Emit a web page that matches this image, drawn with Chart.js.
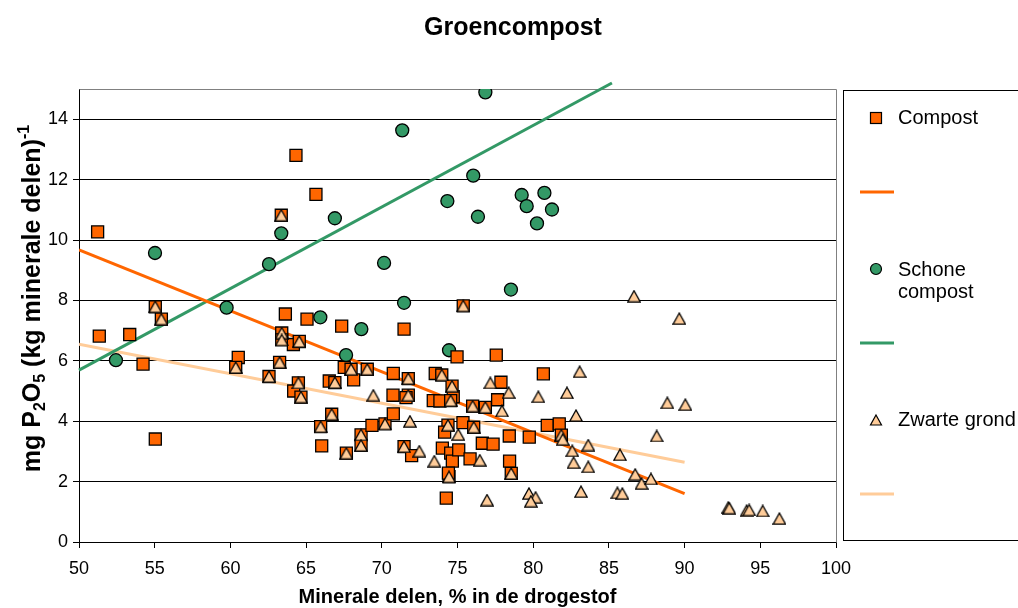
<!DOCTYPE html>
<html>
<head>
<meta charset="utf-8">
<script src="https://cdn.jsdelivr.net/npm/chart.js@4.4.1/dist/chart.umd.min.js"></script>
<style>
html,body{margin:0;padding:0;background:#ffffff;}
#c{display:block;}
</style>
</head>
<body>
<canvas id="c" width="1018" height="608"></canvas>
<script>
// ---- text ----
const chartTitle = 'Groencompost';
const xAxisTitle = 'Minerale delen, % in de drogestof';
const yAxisTitleParts = [['mg P', 'n'], ['2', 'sub'], ['O', 'n'], ['5', 'sub'], [' (kg minerale delen)', 'n'], ['-1', 'sup']];
const seriesNames = ['Compost', 'Schone compost', 'Zwarte grond'];

// ---- ticks ----
const xTicks = [50, 55, 60, 65, 70, 75, 80, 85, 90, 95, 100];
const yTicks = [0, 2, 4, 6, 8, 10, 12, 14];

// ---- series: Compost ----
const compostX = [51.23,51.34,53.35,54.23,55.04,55.04,55.44,60.52,60.35,62.55,63.25,63.36,63.39,63.39,63.63,64.16,64.55,64.33,65.06,65.65,64.49,64.18,64.66,66.53,66.9,66.69,65.96,66.03,67.35,67.52,67.97,68.14,69.04,67.66,68.63,68.63,69.35,70.21,70.76,70.74,70.76,71.47,71.75,71.75,71.6,71.47,71.97,73.53,73.96,74.97,75.38,77.56,74.64,74.72,73.4,73.84,74.55,76.0,76.84,77.65,77.87,80.67,74.37,74.15,75.36,76.07,74.0,74.55,74.66,75.08,75.83,74.44,74.4,74.26,76.64,77.35,78.42,79.74,78.44,78.55,80.93,81.72,81.86];
const compostY = [10.27,6.82,6.87,5.89,3.41,7.79,7.38,6.11,5.78,5.48,5.95,10.82,6.92,6.69,7.55,6.54,6.64,12.8,7.38,11.51,5.27,5.0,4.8,5.33,5.28,4.23,3.82,3.18,7.15,5.78,5.72,5.37,5.72,2.94,3.55,3.2,3.86,3.91,4.24,4.86,5.58,7.05,5.41,4.86,4.78,3.16,2.86,5.58,5.53,6.13,7.82,6.19,5.16,4.81,4.68,4.67,4.68,4.5,4.46,4.71,5.29,5.57,3.87,3.64,3.95,3.8,3.11,2.94,2.68,3.05,2.75,2.16,2.28,1.45,3.27,3.24,3.51,3.47,2.68,2.27,3.86,3.91,3.54];

// ---- series: Schone compost ----
const schoneX = [52.44,55.02,59.75,62.55,63.36,65.94,66.9,67.64,68.65,70.15,71.35,71.47,74.33,74.44,76.04,76.35,76.84,78.53,79.24,79.57,80.25,80.74,81.24];
const schoneY = [6.02,9.57,7.76,9.2,10.22,7.44,10.72,6.19,7.05,9.24,13.63,7.92,11.29,6.35,12.13,10.77,14.89,8.36,11.49,11.12,10.55,11.56,11.01];

// ---- series: Zwarte grond ----
const zwarteX = [55.04,55.44,60.35,62.55,63.25,63.36,63.39,63.39,64.55,64.49,64.66,66.9,66.69,65.96,67.97,69.04,67.66,68.63,68.63,70.21,71.75,71.75,71.47,73.96,75.38,74.64,74.55,76.0,76.84,74.37,76.07,74.44,78.55,81.86,69.44,71.86,72.48,75.05,73.47,76.47,76.95,77.17,78.38,77.94,80.34,82.23,82.83,83.07,81.95,82.58,82.67,83.64,83.64,79.72,80.16,79.85,83.16,86.66,89.65,88.86,90.05,88.16,85.73,86.74,87.16,87.78,85.56,85.89,92.89,92.95,94.1,94.27,95.16,96.26];
const zwarteY = [7.79,7.38,5.78,5.48,5.95,10.82,6.92,6.69,6.64,5.27,4.8,5.28,4.23,3.82,5.72,5.72,2.94,3.55,3.2,3.91,5.41,4.86,3.16,5.53,7.82,5.16,4.68,4.5,4.46,3.87,3.8,2.16,2.27,3.54,4.86,4.0,3.01,3.56,2.68,2.71,1.39,5.27,4.95,4.34,4.81,4.94,4.19,5.64,3.4,3.02,2.63,3.21,2.49,1.61,1.48,1.35,1.67,8.14,7.4,4.61,4.55,3.51,2.89,2.24,1.94,2.09,1.63,1.61,1.15,1.12,1.04,1.06,1.03,0.78];

// ---- trend lines (end points) ----
const compostTrendX = [50, 90];
const compostTrendY = [9.67, 1.6];
const schoneTrendX = [50, 85.2];
const schoneTrendY = [5.69, 15.2];
const zwarteTrendX = [50, 90];
const zwarteTrendY = [6.55, 2.64];

// ---- styles ----
const ORANGE = '#FF6600';
const GREEN = '#339966';
const PEACH = '#FFCC99';
const FONT = 'Arial, "Liberation Sans", Helvetica, sans-serif';

function pts(xs, ys) { return xs.map((x, i) => ({x: x, y: ys[i]})); }

function makeTriangle(w, h, fill) {
  const c = document.createElement('canvas');
  c.width = w; c.height = h;
  const g = c.getContext('2d');
  g.beginPath();
  g.moveTo(w / 2, 1);
  g.lineTo(w - 0.8, h - 0.8);
  g.lineTo(0.8, h - 0.8);
  g.closePath();
  g.fillStyle = fill; g.fill();
  g.lineWidth = 1.3; g.strokeStyle = '#000'; g.stroke();
  return c;
}
const triMarker = makeTriangle(14, 13, PEACH);

const titlePlugin = {
  id: 'customTitle',
  afterDraw(chart) {
    const ctx = chart.ctx;
    ctx.save();
    ctx.font = 'bold 25px ' + FONT;
    ctx.fillStyle = '#000';
    ctx.textAlign = 'center';
    ctx.textBaseline = 'middle';
    ctx.fillText(chartTitle, 513, 28);
    ctx.restore();
  }
};

const yTitlePlugin = {
  id: 'yTitle',
  afterDraw(chart) {
    const ctx = chart.ctx;
    const big = 'bold 25px ' + FONT, small = 'bold 16px ' + FONT;
    ctx.save();
    let total = 0;
    const widths = yAxisTitleParts.map(p => {
      ctx.font = p[1] === 'n' ? big : small;
      const w = ctx.measureText(p[0]).width;
      total += w;
      return w;
    });
    const area = chart.chartArea;
    ctx.translate(40, (area.top + area.bottom) / 2 - 17);
    ctx.rotate(-Math.PI / 2);
    ctx.fillStyle = '#000';
    ctx.textAlign = 'left';
    ctx.textBaseline = 'alphabetic';
    let x = -total / 2;
    yAxisTitleParts.forEach((p, i) => {
      ctx.font = p[1] === 'n' ? big : small;
      const dy = p[1] === 'sub' ? 5 : (p[1] === 'sup' ? -11 : 0);
      ctx.fillText(p[0], x, dy);
      x += widths[i];
    });
    ctx.restore();
  }
};

const framePlugin = {
  id: 'frame',
  beforeDatasetsDraw(chart) {
    const {ctx, chartArea: a} = chart;
    ctx.save();
    ctx.strokeStyle = '#808080';
    ctx.lineWidth = 1;
    ctx.beginPath();
    ctx.moveTo(Math.round(a.left) + 0.5, Math.round(a.top) + 0.5);
    ctx.lineTo(Math.round(a.right) + 0.5, Math.round(a.top) + 0.5);
    ctx.lineTo(Math.round(a.right) + 0.5, Math.round(a.bottom) + 0.5);
    ctx.stroke();
    ctx.restore();
  }
};

const legendPlugin = {
  id: 'customLegend',
  afterDraw(chart) {
    const ctx = chart.ctx;
    ctx.save();
    // box
    ctx.strokeStyle = '#000';
    ctx.lineWidth = 1;
    ctx.strokeRect(843.5, 90.5, 200, 450);
    const mx = 876, tx = 898;
    ctx.font = '20px ' + FONT;
    ctx.fillStyle = '#000';
    ctx.textBaseline = 'middle';
    ctx.textAlign = 'left';
    // Compost
    ctx.fillStyle = ORANGE;
    ctx.fillRect(mx - 5.5, 118 - 5.5, 11, 11);
    ctx.strokeStyle = '#000'; ctx.lineWidth = 1.2;
    ctx.strokeRect(mx - 5.5, 118 - 5.5, 11, 11);
    ctx.fillStyle = '#000';
    ctx.fillText(seriesNames[0], tx, 118);
    // orange line
    ctx.strokeStyle = ORANGE; ctx.lineWidth = 3;
    ctx.beginPath(); ctx.moveTo(860, 192); ctx.lineTo(894, 192); ctx.stroke();
    // Schone compost
    ctx.beginPath(); ctx.arc(mx, 269, 5.5, 0, Math.PI * 2);
    ctx.fillStyle = GREEN; ctx.fill();
    ctx.strokeStyle = '#000'; ctx.lineWidth = 1.2; ctx.stroke();
    ctx.fillStyle = '#000';
    const sc = seriesNames[1].split(' ');
    ctx.fillText(sc[0], tx, 270);
    ctx.fillText(sc[1], tx, 292);
    // green line
    ctx.strokeStyle = GREEN; ctx.lineWidth = 3;
    ctx.beginPath(); ctx.moveTo(860, 343); ctx.lineTo(894, 343); ctx.stroke();
    // Zwarte grond
    ctx.beginPath(); ctx.moveTo(mx, 415); ctx.lineTo(mx + 5.5, 425); ctx.lineTo(mx - 5.5, 425); ctx.closePath();
    ctx.fillStyle = PEACH; ctx.fill();
    ctx.strokeStyle = '#000'; ctx.lineWidth = 1.2; ctx.stroke();
    ctx.fillStyle = '#000';
    ctx.fillText(seriesNames[2], tx, 420);
    // peach line
    ctx.strokeStyle = PEACH; ctx.lineWidth = 3;
    ctx.beginPath(); ctx.moveTo(860, 494); ctx.lineTo(894, 494); ctx.stroke();
    ctx.restore();
  }
};

new Chart(document.getElementById('c').getContext('2d'), {
  type: 'scatter',
  data: {
    datasets: [
      { label: seriesNames[2], data: pts(zwarteX, zwarteY), pointStyle: triMarker, pointRadius: 7,
        backgroundColor: PEACH, borderColor: '#000', order: 0 },
      { label: seriesNames[0], data: pts(compostX, compostY), pointStyle: 'rect', pointRadius: 8.5,
        backgroundColor: ORANGE, borderColor: '#000', borderWidth: 1.3, order: 1 },
      { label: seriesNames[1], data: pts(schoneX, schoneY), pointStyle: 'circle', pointRadius: 6.5,
        backgroundColor: GREEN, borderColor: '#000', borderWidth: 1.3, order: 2 },
      { label: 'Trend ' + seriesNames[0], data: pts(compostTrendX, compostTrendY), showLine: true, pointRadius: 0,
        borderColor: ORANGE, borderWidth: 3, order: 3 },
      { label: 'Trend ' + seriesNames[1], data: pts(schoneTrendX, schoneTrendY), showLine: true, pointRadius: 0,
        borderColor: GREEN, borderWidth: 3, order: 3, clip: false },
      { label: 'Trend ' + seriesNames[2], data: pts(zwarteTrendX, zwarteTrendY), showLine: true, pointRadius: 0,
        borderColor: PEACH, borderWidth: 3, order: 3 }
    ]
  },
  options: {
    responsive: false,
    devicePixelRatio: 1,
    animation: false,
    events: [],
    layout: { padding: { top: 89, right: 182, left: 0, bottom: 0 } },
    plugins: { legend: { display: false }, title: { display: false }, tooltip: { enabled: false } },
    scales: {
      x: {
        type: 'linear', min: 50, max: 100,
        afterBuildTicks: s => { s.ticks = xTicks.map(v => ({ value: v })); },
        afterFit: s => { s.height = 66; },
        grid: { drawOnChartArea: false, drawTicks: true, tickLength: 6, color: '#000' },
        border: { color: '#000', width: 1 },
        ticks: { font: { family: FONT, size: 18 }, color: '#000', padding: 10, maxRotation: 0, autoSkip: false },
        title: { display: true, text: xAxisTitle, color: '#000',
                 font: { family: FONT, size: 20, weight: 'bold', lineHeight: 1 }, padding: { top: 0, bottom: 1 } }
      },
      y: {
        type: 'linear', min: 0, max: 15,
        afterBuildTicks: s => { s.ticks = yTicks.map(v => ({ value: v })); },
        afterFit: s => { s.width = 79; },
        grid: { color: '#000', tickLength: 6 },
        border: { color: '#000', width: 1 },
        ticks: { font: { family: FONT, size: 18 }, color: '#000', padding: 5 }
      }
    }
  },
  plugins: [framePlugin, titlePlugin, yTitlePlugin, legendPlugin]
});
</script>
</body>
</html>
